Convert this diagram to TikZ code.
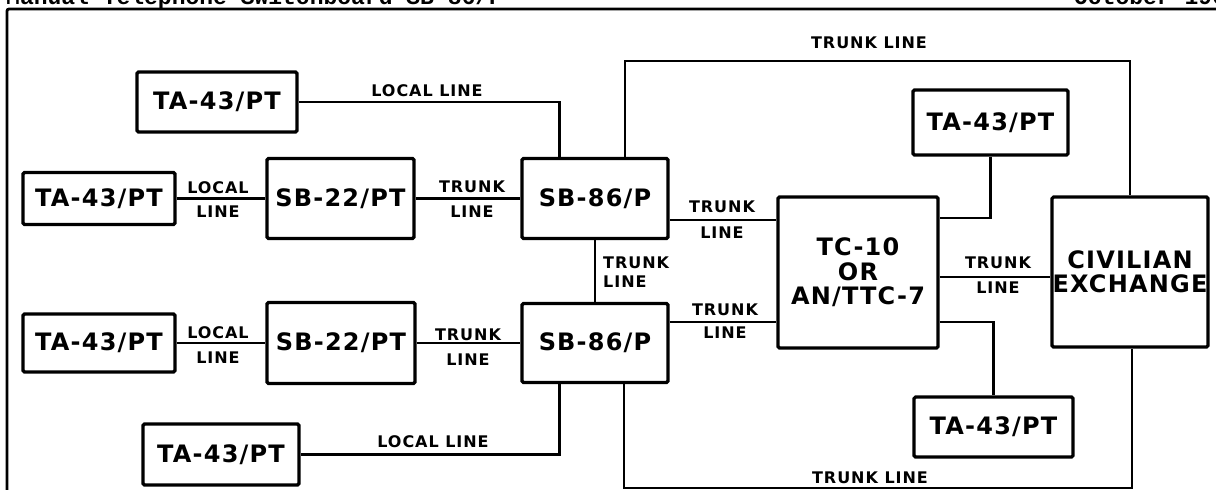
\documentclass[tikz,border=0pt]{standalone}
\usepackage{fontspec}
\usetikzlibrary{calc}
\setmainfont{DejaVu Sans}
\newfontfamily\bigf[LetterSpace=5]{DejaVu Sans}
\newfontfamily\smallf[LetterSpace=6]{DejaVu Sans}
\newfontfamily\hdrf{Liberation Mono}
\begin{document}
\begin{tikzpicture}[x=1pt,y=-1pt,
  blk/.style={draw, line width=3.2pt, rounded corners=1.5pt, inner sep=0pt, align=center,
    font=\bigf\bfseries\fontsize{24}{24.5}\selectfont},
  conn/.style={line width=2.8pt},
  lbl/.style={inner sep=0pt, font=\smallf\bfseries\fontsize{16}{16}\selectfont},
  frm/.style={line width=2.8pt},
  hdr/.style={inner sep=0pt, anchor=base west, font=\hdrf\bfseries\fontsize{23}{23}\selectfont}]
\useasboundingbox (0,0) rectangle (1216,490);
\clip (0,0) rectangle (1216,490);
\fill[white] (0,0) rectangle (1216,490);
% header (cut off by the page edge, as in the reference)
\node[hdr] (h1) at (6,4) {Manual Telephone Switchboard SB-86/P};
\node[hdr, anchor=base east] (h2) at (1240,4) {October 1967};
% frame
\draw[frm, rounded corners=2pt] (7,500) -- (7,9) -- (1230,9);
% boxes
\node[blk, minimum width=160pt, minimum height=60pt] (TA1) at (217,102) {TA-43/PT};
\node[blk, minimum width=152pt, minimum height=52pt] (TA2) at (99,198.5) {TA-43/PT};
\node[blk, minimum width=147pt, minimum height=80pt] (SB22a) at (340.5,198.5) {SB-22/PT};
\node[blk, minimum width=146pt, minimum height=80pt] (SB86a) at (595,198.5) {SB-86/P};
\node[blk, minimum width=148pt, minimum height=81pt] (SB22b) at (341,343) {SB-22/PT};
\node[blk, minimum width=146pt, minimum height=79pt] (SB86b) at (595,343) {SB-86/P};
\node[blk, minimum width=152pt, minimum height=58pt] (TA6) at (99,343) {TA-43/PT};
\node[blk, minimum width=156pt, minimum height=61pt] (TA5) at (221,454.5) {TA-43/PT};
\node[blk, minimum width=160pt, minimum height=151pt] (TC) at (858,272.5) {TC-10\\OR\\AN/TTC-7};
\node[blk, minimum width=156pt, minimum height=150pt] (CIV) at (1130,272) {CIVILIAN\\EXCHANGE};
\node[blk, minimum width=155pt, minimum height=65pt] (TA3) at (990.5,122.5) {TA-43/PT};
\node[blk, minimum width=159pt, minimum height=60pt] (TA4) at (993.5,427) {TA-43/PT};
% connectors
\draw[conn] (TA1.east) -| ($(SB86a.north west)+(39,0)$);
\draw[conn] (TA2) -- (SB22a);
\draw[conn] (SB22a) -- (SB86a);
\coordinate (t1) at (625,61);
\coordinate (t2) at (1130,61);
\draw[conn] (t1 |- SB86a.north) -- (t1) -- (t2) -- (t2 |- CIV.north);
\coordinate (ya) at (0,220);
\draw[conn] (SB86a.east |- ya) -- (TC.west |- ya);
\coordinate (yb) at (0,218);
\draw[conn] (TA3.south) |- (TC.east |- yb);
\coordinate (yc) at (0,277);
\draw[conn] (TC.east |- yc) -- (CIV.west |- yc);
\coordinate (yd) at (0,322);
\draw[conn] (TC.east |- yd) -| (TA4.north);
\draw[conn] (SB86a) -- (SB86b);
\draw[conn] (TA6) -- (SB22b);
\draw[conn] (SB22b) -- (SB86b);
\draw[conn] (SB86b.east |- yd) -- (TC.west |- yd);
\draw[conn] ($(SB86b.south west)+(39,0)$) |- (TA5.east);
\coordinate (b1) at (624,488);
\coordinate (b2) at (1132,488);
\draw[conn] (b1 |- SB86b.south) -- (b1) -- (b2) -- (b2 |- CIV.south);
% labels
\node[lbl] (l1) at (427,91) {LOCAL LINE};
\node[lbl] (l2a) at (218,188) {LOCAL};
\node[lbl] (l2b) at (218,212) {LINE};
\node[lbl] (l3a) at (472,187) {TRUNK};
\node[lbl] (l3b) at (472,212) {LINE};
\node[lbl] (l4) at (869,43) {TRUNK LINE};
\node[lbl] (l5a) at (722,207) {TRUNK};
\node[lbl] (l5b) at (722,233) {LINE};
\node[lbl, anchor=west] (l6a) at (603,263) {TRUNK};
\node[lbl, anchor=west] (l6b) at (603,282) {LINE};
\node[lbl] (l7a) at (725,310) {TRUNK};
\node[lbl] (l7b) at (725,333) {LINE};
\node[lbl] (l8a) at (998,263) {TRUNK};
\node[lbl] (l8b) at (998,288) {LINE};
\node[lbl] (l9a) at (218,333) {LOCAL};
\node[lbl] (l9b) at (218,358) {LINE};
\node[lbl] (l10a) at (468,335) {TRUNK};
\node[lbl] (l10b) at (468,360) {LINE};
\node[lbl] (l11) at (433,442) {LOCAL LINE};
\node[lbl] (l12) at (870,478) {TRUNK LINE};
\end{tikzpicture}
\end{document}
